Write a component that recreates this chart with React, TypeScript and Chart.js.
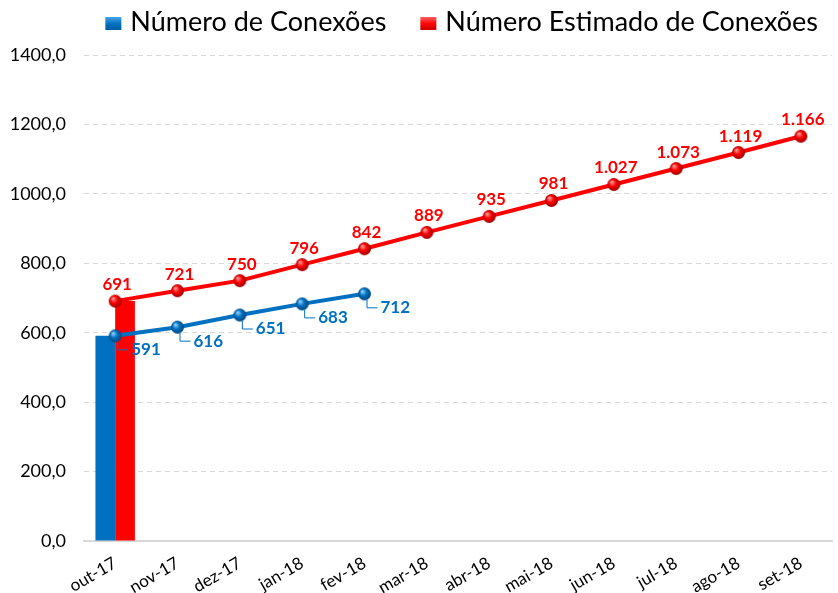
import React, { useEffect, useRef } from 'react';
import { Chart, registerables } from 'chart.js';

Chart.register(...registerables);

const categories = ['out-17', 'nov-17', 'dez-17', 'jan-18', 'fev-18', 'mar-18', 'abr-18', 'mai-18', 'jun-18', 'jul-18', 'ago-18', 'set-18'];
const conexoes = [591, 616, 651, 683, 712, null, null, null, null, null, null, null];
const estimadas = [691, 721, 750, 796, 842, 889, 935, 981, 1027, 1073, 1119, 1166];
const barConexoes = [591, null, null, null, null, null, null, null, null, null, null, null];
const barEstimadas = [691, null, null, null, null, null, null, null, null, null, null, null];
const seriesNames = ['Número de Conexões', 'Número Estimado de Conexões'];
const yMax = 1400;
const yStep = 200;

const BLUE = '#0070C0';
const RED = '#FF0000';
const FONT = 'Lato, "Liberation Sans", sans-serif';

function sphere(base: string, light: string, dark: string, r: number) {
  const size = Math.ceil(r * 2 + 2);
  const c = document.createElement('canvas');
  c.width = size;
  c.height = size;
  const g = c.getContext('2d')!;
  const cx = size / 2;
  const grad = g.createRadialGradient(cx - r * 0.35, cx - r * 0.4, 0.5, cx, cx, r * 1.1);
  grad.addColorStop(0, light);
  grad.addColorStop(0.45, base);
  grad.addColorStop(1, dark);
  g.fillStyle = grad;
  g.beginPath();
  g.arc(cx, cx, r, 0, Math.PI * 2);
  g.fill();
  return c;
}

function fmt(n: number) {
  if (n >= 1000) {
    return Math.floor(n / 1000) + '.' + String(n % 1000).padStart(3, '0');
  }
  return String(n);
}

const labelPlugin = {
  id: 'pointLabels',
  afterDatasetsDraw(chart: any) {
    const ctx = chart.ctx;
    ctx.save();
    ctx.font = `bold 17px ${FONT}`;
    const mb = chart.getDatasetMeta(2);
    mb.data.forEach((pt: any, i: number) => {
      const v = conexoes[i];
      if (v == null) return;
      const lx = pt.x + 16;
      const ly = pt.y + 14;
      ctx.strokeStyle = BLUE;
      ctx.lineWidth = 1;
      ctx.beginPath();
      ctx.moveTo(pt.x + 2.5, pt.y + 6);
      ctx.lineTo(pt.x + 2.5, ly);
      ctx.lineTo(lx - 3, ly);
      ctx.stroke();
      ctx.fillStyle = BLUE;
      ctx.textAlign = 'left';
      ctx.textBaseline = 'middle';
      ctx.fillText(fmt(v), lx, ly);
    });
    const mr = chart.getDatasetMeta(3);
    mr.data.forEach((pt: any, i: number) => {
      const v = estimadas[i];
      if (v == null) return;
      ctx.fillStyle = RED;
      ctx.textAlign = 'center';
      ctx.textBaseline = 'alphabetic';
      ctx.fillText(fmt(v), pt.x + 2, pt.y - 11);
    });
    ctx.restore();
  },
};

const legendPlugin = {
  id: 'customLegend',
  afterDraw(chart: any) {
    const ctx = chart.ctx;
    ctx.save();
    ctx.font = `27px ${FONT}`;
    ctx.textBaseline = 'alphabetic';
    ctx.textAlign = 'left';
    const items = [0, 1].map((i) => ({
      text: chart.data.datasets[i].label as string,
      color: chart.data.datasets[i].backgroundColor as string,
    }));
    const boxW = 16;
    const boxH = 13;
    const gapText = 9;
    const gapItem = 34;
    const rightEnd = 818;
    const baseline = 31;
    const widths = items.map((it) => ctx.measureText(it.text).width);
    let total = 0;
    items.forEach((_, i) => {
      total += boxW + gapText + widths[i];
      if (i < items.length - 1) total += gapItem;
    });
    let x = rightEnd - total;
    items.forEach((it, i) => {
      const g = ctx.createLinearGradient(x, baseline - boxH - 1, x, baseline);
      g.addColorStop(0, it.color === BLUE ? '#4aa3e8' : '#ff6060');
      g.addColorStop(0.5, it.color);
      g.addColorStop(1, it.color === BLUE ? '#005a9c' : '#c00000');
      ctx.fillStyle = g;
      ctx.fillRect(x, baseline - boxH - 1, boxW, boxH);
      x += boxW + gapText;
      ctx.fillStyle = '#000';
      ctx.fillText(it.text, x, baseline);
      x += widths[i] + gapItem;
    });
    ctx.restore();
  },
};

export default function App() {
  const ref = useRef<HTMLCanvasElement>(null);
  useEffect(() => {
    document.body.style.margin = '0';
    const blueDot = sphere(BLUE, '#8fd0ff', '#003f70', 6.5);
    const redDot = sphere(RED, '#ff9a9a', '#8a0000', 6.5);
    const chart = new Chart(ref.current!, {
      type: 'bar',
      data: {
        labels: categories,
        datasets: [
          {
            type: 'bar',
            label: seriesNames[0],
            data: barConexoes as any,
            backgroundColor: BLUE,
            borderWidth: 0,
            order: 2,
            categoryPercentage: 0.633,
            barPercentage: 1,
          },
          {
            type: 'bar',
            label: seriesNames[1],
            data: barEstimadas as any,
            backgroundColor: RED,
            borderWidth: 0,
            order: 2,
            categoryPercentage: 0.633,
            barPercentage: 1,
          },
          {
            type: 'line',
            label: seriesNames[0] + ' (linha)',
            data: conexoes as any,
            borderColor: BLUE,
            backgroundColor: BLUE,
            borderWidth: 4,
            pointStyle: blueDot as any,
            pointRadius: 7,
            spanGaps: false,
            order: 0,
          },
          {
            type: 'line',
            label: seriesNames[1] + ' (linha)',
            data: estimadas as any,
            borderColor: RED,
            backgroundColor: RED,
            borderWidth: 4,
            pointStyle: redDot as any,
            pointRadius: 7,
            order: 0,
          },
        ],
      },
      options: {
        responsive: false,
        animation: false,
        layout: { padding: { left: 10, right: 0, top: 55, bottom: 0 } },
        plugins: {
          tooltip: { enabled: false },
          legend: { display: false },
        },
        scales: {
          x: {
            grid: { display: false, drawTicks: false },
            border: { display: true, color: '#d9d9d9', width: 2 },
            ticks: {
              color: '#000',
              font: { family: FONT, size: 17 },
              minRotation: 30,
              maxRotation: 30,
              padding: 12,
            },
            afterFit: (s: any) => {
              s.paddingLeft = 0;
              s.paddingRight = 0;
              s.height = 52;
            },
          },
          y: {
            min: 0,
            max: yMax,
            grid: {
              drawTicks: false,
              color: (c: any) => (c.tick && c.tick.value === 0 ? 'rgba(0,0,0,0)' : '#d9d9d9'),
              lineWidth: 1,
            },
            border: { display: false, dash: [5, 4] },
            ticks: {
              stepSize: yStep,
              color: '#000',
              padding: 18,
              font: { family: FONT, size: 18 },
              callback: (v: any) => Number(v).toFixed(1).replace('.', ','),
            },
            afterFit: (s: any) => {
              s.width = 74;
            },
          },
        },
      },
      plugins: [labelPlugin, legendPlugin],
    });
    return () => chart.destroy();
  }, []);
  return (
    <div style={{ width: 838, height: 593, overflow: 'hidden' }}>
      <canvas ref={ref} width={843} height={593} style={{ display: 'block' }} />
    </div>
  );
}
